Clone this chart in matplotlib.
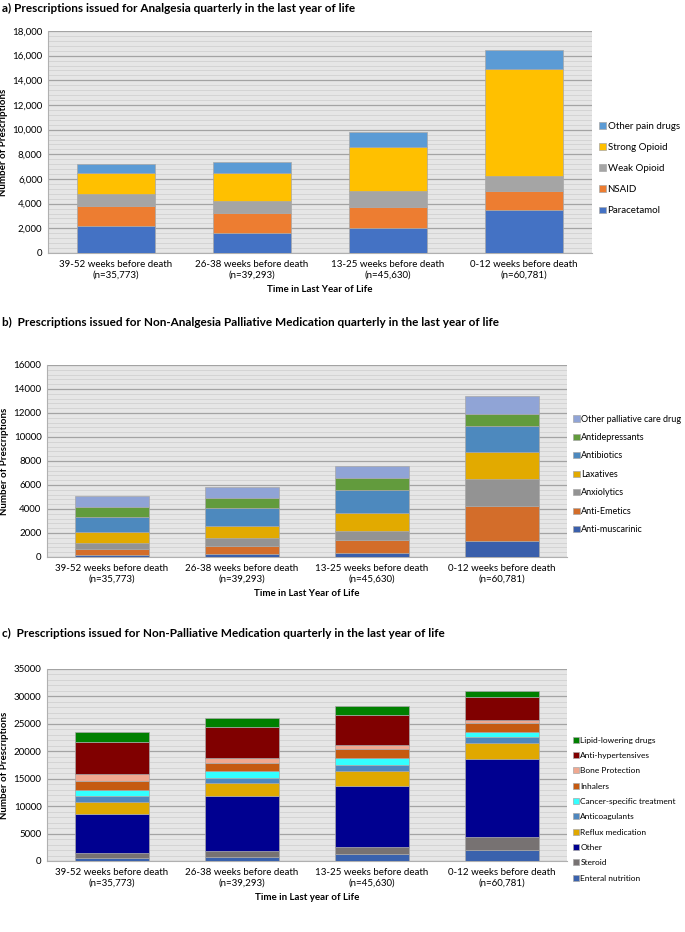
import numpy as np
import matplotlib.pyplot as plt
from matplotlib.ticker import MultipleLocator, FuncFormatter

plt.rcParams['font.family'] = ['Lato', 'DejaVu Sans']

periods = ['39-52 weeks before death\n(n=35,773)', '26-38 weeks before death\n(n=39,293)',
           '13-25 weeks before death\n(n=45,630)', '0-12 weeks before death\n(n=60,781)']

# a) analgesia
a_names = ['Paracetamol', 'NSAID', 'Weak Opioid', 'Strong Opioid', 'Other pain drugs']
a_colors = ['#4472C4', '#ED7D31', '#A5A5A5', '#FFC000', '#5B9BD5']
a_paracetamol = [2200, 1600, 2050, 3450]
a_nsaid = [1600, 1650, 1700, 1550]
a_weak = [950, 950, 1250, 1250]
a_strong = [1700, 2250, 3600, 8650]
a_other = [800, 950, 1250, 1550]

# b) non-analgesia palliative
b_names = ['Anti-muscarinic', 'Anti-Emetics', 'Anxiolytics', 'Laxatives', 'Antibiotics',
           'Antidepressants', 'Other palliative care drug']
b_colors = ['#3A5FAB', '#D36D2A', '#939393', '#E2AA00', '#4D89BE', '#629B3D', '#90A4D6']
b_antimusc = [150, 250, 300, 1300]
b_antiemet = [500, 700, 1150, 2950]
b_anxio = [500, 600, 750, 2250]
b_laxat = [900, 1050, 1500, 2250]
b_antibio = [1300, 1450, 1850, 2200]
b_antidep = [850, 900, 1000, 1000]
b_other = [850, 900, 1050, 1500]

# c) non-palliative
c_names = ['Enteral nutrition', 'Steroid', 'Other', 'Reflux medication', 'Anticoagulants',
           'Cancer-specific treatment', 'Inhalers', 'Bone Protection', 'Anti-hypertensives',
           'Lipid-lowering drugs']
c_colors = ['#3A62AD', '#777272', '#000090', '#E0A800', '#4F87BE', '#33FFFF', '#C55A11',
            '#F0A890', '#800000', '#008000']
c_enteral = [500, 750, 1200, 1950]
c_steroid = [950, 1000, 1350, 2500]
c_other = [7150, 10100, 11150, 14200]
c_reflux = [2100, 2350, 2750, 2850]
c_anticoag = [1200, 1000, 1100, 1100]
c_cancer = [1100, 1150, 1250, 1000]
c_inhalers = [1650, 1600, 1600, 1500]
c_bone = [1300, 750, 800, 600]
c_antiht = [5750, 5700, 5400, 4200]
c_lipid = [1800, 1700, 1600, 1000]


def panel(fig, rect, series, names, colors, ymax, major, minor, fmt, title, title_y, xlabel,
          leg_y, leg_space, leg_fs):
    ax = fig.add_axes(rect)
    ax.set_facecolor('#e6e6e6')
    x = np.arange(len(periods))
    bottom = np.zeros(len(periods))
    for vals, name, col in zip(series, names, colors):
        ax.bar(x, vals, 0.57, bottom=bottom, color=col, label=name,
               edgecolor='#a8a8a8', linewidth=0.5, zorder=3)
        bottom += np.array(vals)
    ax.set_xlim(-0.5, len(periods) - 0.5)
    ax.set_ylim(0, ymax)
    ax.yaxis.set_major_locator(MultipleLocator(major))
    ax.yaxis.set_minor_locator(MultipleLocator(minor))
    ax.yaxis.set_major_formatter(FuncFormatter(fmt))
    ax.grid(axis='y', which='major', color='#a3a3a3', linewidth=0.9, zorder=0)
    ax.grid(axis='y', which='minor', color='#cdcdcd', linewidth=0.5, zorder=0)
    ax.set_axisbelow(True)
    for s in ['top', 'right']:
        ax.spines[s].set_visible(False)
    ax.spines['left'].set_color('#b0b0b0')
    ax.spines['bottom'].set_color('#b0b0b0')
    ax.tick_params(axis='y', which='both', length=0, labelsize=7, pad=4)
    ax.tick_params(axis='x', length=0, labelsize=7, pad=5)
    ax.set_xticks(x)
    ax.set_xticklabels(periods)
    ax.set_ylabel('Number of Prescriptions', fontsize=7, fontweight='bold', labelpad=3)
    ax.set_xlabel(xlabel, fontsize=7, fontweight='bold', labelpad=4)
    fig.text(0.003, title_y, title, fontsize=8.5, fontweight='bold', va='center')
    h, l = ax.get_legend_handles_labels()
    ax.legend(h[::-1], l[::-1], loc='center left', bbox_to_anchor=(1.0, leg_y), frameon=False,
              fontsize=leg_fs, handlelength=0.7, handleheight=0.7, handletextpad=0.2,
              labelspacing=leg_space, borderaxespad=0.3)
    return ax


fig = plt.figure(figsize=(6.85, 9.32), dpi=100)
H = 932.0
W = 685.0

comma = lambda v, p: f'{int(v):,}'
plain = lambda v, p: f'{int(v)}'

panel(fig, [48 / W, 1 - 253 / H, 544 / W, 222 / H],
      [a_paracetamol, a_nsaid, a_weak, a_strong, a_other], a_names, a_colors,
      18000, 2000, 400, comma,
      'a) Prescriptions issued for Analgesia quarterly in the last year of life', 1 - 8 / H,
      'Time in Last Year of Life', 0.38, 1.25, 7)

panel(fig, [47 / W, 1 - 557 / H, 520 / W, 192 / H],
      [b_antimusc, b_antiemet, b_anxio, b_laxat, b_antibio, b_antidep, b_other], b_names, b_colors,
      16000, 2000, 400, plain,
      'b)  Prescriptions issued for Non-Analgesia Palliative Medication quarterly in the last year of life',
      1 - 322 / H, 'Time in Last Year of Life', 0.43, 1.05, 6.5)

panel(fig, [47 / W, 1 - 861 / H, 520 / W, 192 / H],
      [c_enteral, c_steroid, c_other, c_reflux, c_anticoag, c_cancer, c_inhalers, c_bone,
       c_antiht, c_lipid], c_names, c_colors,
      35000, 5000, 1000, plain,
      'c)  Prescriptions issued for Non-Palliative Medication quarterly in the last year of life',
      1 - 633 / H, 'Time in Last year of Life', 0.27, 1.0, 6.0)

fig.savefig('out.png', dpi=100)
